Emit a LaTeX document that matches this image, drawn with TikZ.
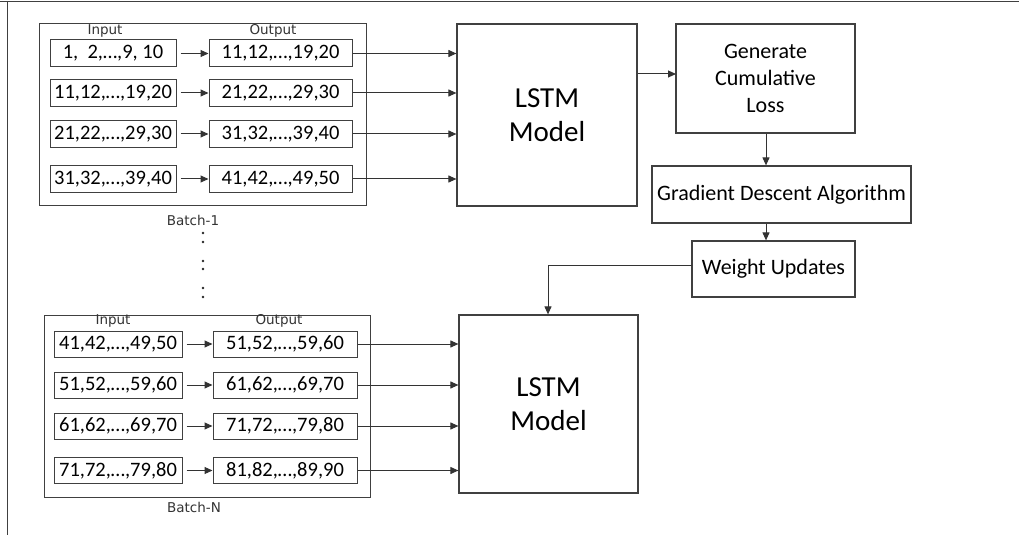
\documentclass[tikz,border=0pt]{standalone}
\usepackage{fontspec}
\setmainfont{Carlito}
\newfontfamily\lblfont{DejaVu Sans}
\usetikzlibrary{arrows.meta}

\tikzset{
  frame/.style={draw=black!75, line width=1pt},
  box/.style={draw=black!75, line width=1pt, inner sep=0pt, minimum height=27pt,
    font=\fontsize{20.5}{24}\selectfont},
  inbox/.style={box, minimum width=126pt},
  outbox/.style={box, minimum width=143pt},
  batch/.style={draw=black!75, line width=1pt, inner sep=0pt},
  model/.style={draw=black!75, line width=1.2pt, inner sep=0pt, align=center,
    font=\fontsize{29}{34}\selectfont},
  stage/.style={draw=black!75, line width=1.2pt, inner sep=0pt, align=center,
    font=\fontsize{22}{27}\selectfont},
  lbl/.style={inner sep=0pt, font=\lblfont\fontsize{13.5}{16}\selectfont, text=black!80},
  arr/.style={draw=black!80, line width=1pt, -{Triangle[length=8pt,width=7pt]}},
  ln/.style={draw=black!80, line width=1pt},
}

\begin{document}
\begin{tikzpicture}[x=1pt, y=-1pt]
\useasboundingbox (0,0) rectangle (1019,537);

% page rule along the top and left
\draw[frame] (0,1.5) -- (1019,1.5);
\draw[frame] (7.5,1.5) -- (7.5,535);

% ---------- Batch-1 ----------
\node[batch, minimum width=327pt, minimum height=182pt] (b1) at (202.5,115) {};
\node[lbl] (in1) at (105,31) {Input};
\node[lbl] (out1) at (273,31) {Output};
\node[lbl] (bl1) at (193,220) {Batch-1};

\node[inbox] (i11) at (113,53.5) {1,\ \ 2,…,9, 10};
\node[inbox] (i12) at (113,93)   {11,12,…,19,20};
\node[inbox] (i13) at (113,134)  {21,22,…,29,30};
\node[inbox] (i14) at (113,179)  {31,32,…,39,40};

\node[outbox] (o11) at (280.5,53.5) {11,12,…,19,20};
\node[outbox] (o12) at (280.5,93)   {21,22,…,29,30};
\node[outbox] (o13) at (280.5,134)  {31,32,…,39,40};
\node[outbox] (o14) at (280.5,179)  {41,42,…,49,50};

% ---------- first LSTM ----------
\node[model, minimum width=180pt, minimum height=182pt] (m1) at (547,115) {LSTM\\Model};

\foreach \k in {1,2,3,4}{
  \draw[arr, shorten <=4pt] (i1\k.east) -- (o1\k.west);
  \draw[arr] (o1\k.east) -- (m1.west |- o1\k.east);
}

% ---------- training loop ----------
\node[stage, minimum width=179pt, minimum height=109pt] (loss) at (765.5,78.5)
  {Generate\\Cumulative\\Loss};
\node[stage, minimum width=259pt, minimum height=57pt] (gd) at (781.5,194.5)
  {Gradient Descent Algorithm};
\node[stage, minimum width=163pt, minimum height=56pt] (wu) at (773.5,269)
  {Weight Updates};

\coordinate (lossin) at (676,74);
\draw[arr] (m1.east |- lossin) -- (lossin);
\coordinate (gdtop) at (766,0);
\draw[arr] (loss.south -| gdtop) -- (gd.north -| gdtop);
\draw[arr] (gd.south -| gdtop) -- (wu.north -| gdtop);

% ---------- Batch-N ----------
\node[batch, minimum width=326pt, minimum height=182pt] (bn) at (207,406) {};
\node[lbl] (inN) at (113,321) {Input};
\node[lbl] (outN) at (279,321) {Output};
\node[lbl] (blN) at (194,507) {Batch-N};

\node[inbox, minimum width=128pt, minimum height=26pt] (iN1) at (118,344)   {41,42,…,49,50};
\node[inbox, minimum width=128pt, minimum height=26pt] (iN2) at (118,385)   {51,52,…,59,60};
\node[inbox, minimum width=128pt, minimum height=26pt] (iN3) at (118,426)   {61,62,…,69,70};
\node[inbox, minimum width=128pt, minimum height=26pt] (iN4) at (118,470.5) {71,72,…,79,80};

\node[outbox, minimum width=144pt, minimum height=26pt] (oN1) at (285,344)   {51,52,…,59,60};
\node[outbox, minimum width=144pt, minimum height=26pt] (oN2) at (285,385)   {61,62,…,69,70};
\node[outbox, minimum width=144pt, minimum height=26pt] (oN3) at (285,426)   {71,72,…,79,80};
\node[outbox, minimum width=144pt, minimum height=26pt] (oN4) at (285,470.5) {81,82,…,89,90};

% ---------- second LSTM ----------
\node[model, minimum width=179pt, minimum height=178pt] (m2) at (548.5,404) {LSTM\\Model};

\foreach \k in {1,2,3,4}{
  \draw[arr, shorten <=4pt] (iN\k.east) -- (oN\k.west);
  \draw[arr] (oN\k.east) -- (m2.west |- oN\k.east);
}

% updated weights feed the next model
\coordinate (wuout) at (692,265);
\coordinate (drop) at (548,265);
\draw[ln] (wuout) -- (drop);
\draw[arr] (drop) -- (m2.north -| drop);

% vertical ellipsis between the batches
\foreach \yy in {233,242,261,269,288,297}
  \fill[black!85] (203,\yy) circle (1.3pt);

\end{tikzpicture}
\end{document}
